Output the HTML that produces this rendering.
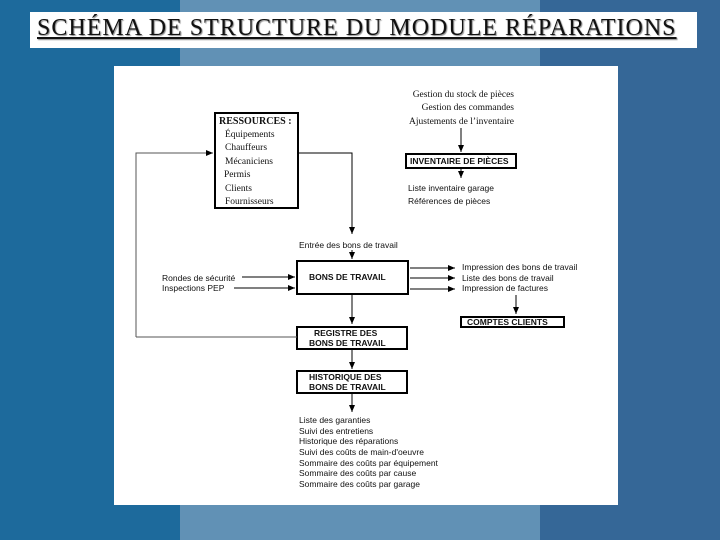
<!DOCTYPE html>
<html><head><meta charset="utf-8"><style>
body{margin:0;width:720px;height:540px;overflow:hidden;background:#5f90b6;position:relative;font-family:"Liberation Sans",sans-serif}
.b{position:absolute;top:0;height:540px}
</style></head><body>
<div class="b" style="left:0;width:180px;background:#1d6a9c"></div>
<div class="b" style="left:180px;width:360px;background:#6191b5"></div>
<div class="b" style="left:540px;width:180px;background:#356797"></div>
<div style="position:absolute;left:30px;top:12px;width:667px;height:36px;background:#fff"></div>
<div style="position:absolute;left:37px;top:15px;font-family:'Liberation Serif',serif;font-size:24px;text-decoration:underline;color:#111;text-shadow:1px 1px 1px #888;letter-spacing:1px;white-space:nowrap">SCHÉMA DE STRUCTURE DU MODULE RÉPARATIONS</div>
<svg style="position:absolute;left:0;top:0" width="720" height="540" font-family="Liberation Sans, sans-serif" font-size="8.5" fill="#111">
<defs><marker id="a" markerWidth="8" markerHeight="8" refX="7" refY="4" orient="auto" markerUnits="userSpaceOnUse"><path d="M0,1 L7,4 L0,7z" fill="#000"/></marker></defs>
<rect x="114" y="66" width="504" height="439" fill="#fff"/>
<g stroke="#000" stroke-width="2" fill="none">
<rect x="215" y="113" width="83" height="95"/>
<rect x="406" y="154" width="110" height="14"/>
<rect x="297" y="261" width="111" height="33"/>
<rect x="461" y="317" width="103" height="10"/>
<rect x="297" y="327" width="110" height="22"/>
<rect x="297" y="371" width="110" height="22"/>
</g>
<g stroke="#000" stroke-width="1" fill="none" marker-end="url(#a)">
<path d="M136,337 V153 H213" stroke="#555"/>
<path d="M298,153 H352 V234"/>
<path d="M352,250 V259"/>
<path d="M242,277 H295"/>
<path d="M234,288 H295"/>
<path d="M410,268 H455"/>
<path d="M410,278 H455"/>
<path d="M410,289 H455"/>
<path d="M516,295 V314"/>
<path d="M352,295 V324"/>
<path d="M352,349 V369"/>
<path d="M352,393 V412"/>
<path d="M461,128 V152"/>
<path d="M461,168 V178"/>
</g>
<path d="M136,337 H297" stroke="#555" fill="none"/>
<g font-family="Liberation Serif, serif" font-size="9.5">
<text x="219" y="124" font-weight="bold" font-size="10">RESSOURCES :</text>
<text x="225" y="137">Équipements</text>
<text x="225" y="150">Chauffeurs</text>
<text x="225" y="164">Mécaniciens</text>
<text x="224" y="177">Permis</text>
<text x="225" y="191">Clients</text>
<text x="225" y="204">Fournisseurs</text>
<g text-anchor="end"><text x="514" y="97">Gestion du stock de pièces</text>
<text x="514" y="110">Gestion des commandes</text>
<text x="514" y="124">Ajustements de l’inventaire</text></g>
</g>
<g font-weight="bold" font-size="8.5">
<text x="410" y="164">INVENTAIRE DE PIÈCES</text>
<text x="309" y="280">BONS DE TRAVAIL</text>
<text x="467" y="325">COMPTES CLIENTS</text>
<text x="314" y="336">REGISTRE DES</text>
<text x="309" y="346">BONS DE TRAVAIL</text>
<text x="309" y="380">HISTORIQUE DES</text>
<text x="309" y="390">BONS DE TRAVAIL</text>
</g>
<text x="408" y="191">Liste inventaire garage</text>
<text x="408" y="204">Références de pièces</text>
<text x="299" y="248">Entrée des bons de travail</text>
<text x="162" y="281">Rondes de sécurité</text>
<text x="162" y="291">Inspections PEP</text>
<text x="462" y="270">Impression des bons de travail</text>
<text x="462" y="281">Liste des bons de travail</text>
<text x="462" y="291">Impression de factures</text>
<text x="299" y="423">Liste des garanties</text>
<text x="299" y="434">Suivi des entretiens</text>
<text x="299" y="444">Historique des réparations</text>
<text x="299" y="455">Suivi des coûts de main-d'oeuvre</text>
<text x="299" y="466">Sommaire des coûts par équipement</text>
<text x="299" y="476">Sommaire des coûts par cause</text>
<text x="299" y="487">Sommaire des coûts par garage</text>
</svg>
</body></html>
